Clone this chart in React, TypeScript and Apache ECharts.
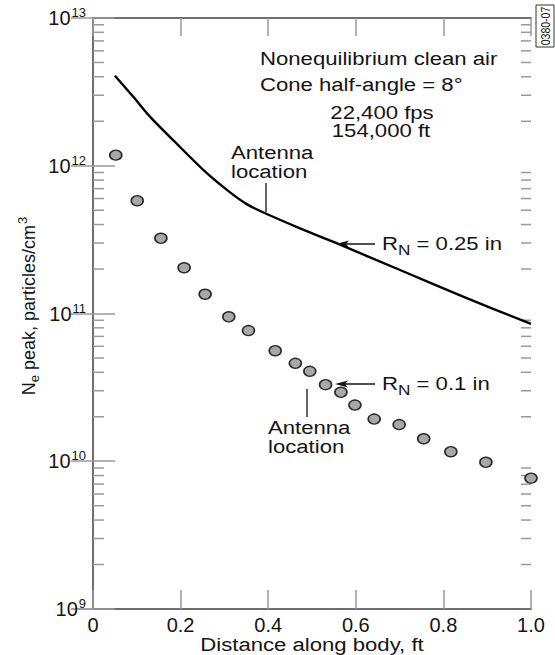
import React, { useEffect, useRef } from "react";
import * as echarts from "echarts";

// ---- data ----
const xTicks = [0, 0.2, 0.4, 0.6, 0.8, 1.0];
const xTickLabels = ["0", "0.2", "0.4", "0.6", "0.8", "1.0"];
const yMinExp = 9;
const yMaxExp = 13;
const minorMantissas = [2, 3, 4, 5, 6, 7, 8, 9];
const minorDecades = [9, 10, 11, 12];

// R_N = 0.25 in (solid curve)
const lineX = [0.05, 0.092, 0.13, 0.183, 0.26, 0.313, 0.351, 0.393, 0.47, 0.556, 0.701, 0.845, 1.0];
const lineY = [4.07e12, 2.93e12, 2.15e12, 1.49e12, 8.9e11, 6.6e11, 5.5e11, 4.77e11, 3.8e11, 2.99e11, 1.97e11, 1.3e11, 8.5e10];

// R_N = 0.1 in (dots)
const dotX = [0.052, 0.101, 0.155, 0.208, 0.256, 0.31, 0.355, 0.416, 0.462, 0.495, 0.531, 0.566, 0.598, 0.642, 0.699, 0.755, 0.817, 0.897, 1.0];
const dotY = [1.18e12, 5.8e11, 3.23e11, 2.04e11, 1.35e11, 9.5e10, 7.66e10, 5.6e10, 4.6e10, 4.06e10, 3.3e10, 2.93e10, 2.4e10, 1.93e10, 1.77e10, 1.42e10, 1.16e10, 9.84e9, 7.68e9];

const FONT = "'Liberation Sans', Arial, Helvetica, sans-serif";
const TXT = "#141414";
const AXIS = "#6f6f6f";
const TICK = "#9a9a9a";
const SX = 1.23;

export default function App() {
  const ref = useRef<HTMLDivElement>(null);

  useEffect(() => {
    if (!ref.current) return;
    const chart = echarts.init(ref.current, null, { renderer: "svg" });

    const minorVals: number[][] = [];
    minorDecades.forEach((d) => minorMantissas.forEach((m) => minorVals.push([0, m * Math.pow(10, d)])));

    const xLabel = (v: number) => {
      const i = xTicks.findIndex((t) => Math.abs(t - v) < 1e-9);
      return i >= 0 ? xTickLabels[i] : "";
    };
    const yLabel = (v: number) => {
      const e = Math.round(Math.log10(v));
      return `{a|10}{b|${e}}`;
    };

    const txt = (text: string, x: number, y: number, align: string = "left", extra: any = {}) => ({
      type: "text",
      x,
      y,
      scaleX: SX,
      style: {
        text,
        fill: TXT,
        font: `18px ${FONT}`,
        textAlign: align,
        textVerticalAlign: "middle",
        ...extra,
      },
    });

    const rnText = (main: string, x: number, y: number) => ({
      type: "text",
      x,
      y,
      scaleX: SX,
      style: {
        text: `{r|R}{s|N}{r|${main}}`,
        fill: TXT,
        textAlign: "left",
        textVerticalAlign: "middle",
        rich: {
          r: { fontSize: 18, fontFamily: FONT, lineHeight: 18, verticalAlign: "top", fill: TXT },
          s: { fontSize: 14, fontFamily: FONT, lineHeight: 14, verticalAlign: "top", padding: [8, 0, 0, 0], fill: TXT },
        },
      },
    });

    const arrow = (tipX: number, y: number, tailX: number) => ({
      type: "group",
      children: [
        { type: "line", shape: { x1: tipX + 6, y1: y, x2: tailX, y2: y }, style: { stroke: TXT, lineWidth: 1.4 } },
        {
          type: "polygon",
          shape: { points: [[tipX, y], [tipX + 13, y - 3.5], [tipX + 10, y], [tipX + 13, y + 3.5]] },
          style: { fill: TXT },
        },
      ],
    });

    const option: any = {
      animation: false,
      backgroundColor: "#ffffff",
      grid: { left: 93, right: 24, top: 18, bottom: 46, containLabel: false, outerBoundsMode: "none" },
      xAxis: [
        {
          type: "value",
          min: 0,
          max: 1,
          interval: 0.2,
          position: "bottom",
          axisLine: { show: true, lineStyle: { color: AXIS, width: 2 } },
          axisTick: { show: true, inside: true, length: 19, lineStyle: { color: TICK, width: 1.5 } },
          axisLabel: { show: true, formatter: xLabel, fontSize: 20, fontFamily: FONT, color: TXT, margin: 6 },
          splitLine: { show: false },
        },
        {
          type: "value",
          min: 0,
          max: 1,
          interval: 0.2,
          position: "top",
          axisLine: { show: true, lineStyle: { color: AXIS, width: 2 } },
          axisTick: { show: true, inside: true, length: 18, lineStyle: { color: TICK, width: 1.5 } },
          axisLabel: { show: false },
          splitLine: { show: false },
        },
      ],
      yAxis: [
        {
          type: "log",
          logBase: 10,
          min: Math.pow(10, yMinExp),
          max: Math.pow(10, yMaxExp),
          position: "left",
          axisLine: { show: true, lineStyle: { color: AXIS, width: 2 } },
          axisTick: { show: true, inside: true, length: 22, lineStyle: { color: TICK, width: 1.5 } },
          axisLabel: {
            show: true,
            formatter: yLabel,
            margin: 7,
            rich: {
              a: { fontSize: 20, fontFamily: FONT, color: TXT, lineHeight: 20, verticalAlign: "bottom" },
              b: { fontSize: 13, fontFamily: FONT, color: TXT, lineHeight: 13, verticalAlign: "bottom", padding: [0, 0, 9, 1] },
            },
          },
          splitLine: { show: false },
        },
        {
          type: "log",
          logBase: 10,
          min: Math.pow(10, yMinExp),
          max: Math.pow(10, yMaxExp),
          position: "right",
          axisLine: { show: true, lineStyle: { color: AXIS, width: 2 } },
          axisTick: { show: true, inside: true, length: 22, lineStyle: { color: TICK, width: 1.5 } },
          axisLabel: { show: false },
          splitLine: { show: false },
        },
      ],
      series: [
        {
          type: "custom",
          name: "minorTicks",
          xAxisIndex: 0,
          yAxisIndex: 0,
          silent: true,
          clip: false,
          data: minorVals,
          renderItem: (_p: any, api: any) => {
            const v = api.value(1);
            const l = api.coord([0, v]);
            const r = api.coord([1, v]);
            return {
              type: "group",
              children: [
                { type: "line", shape: { x1: l[0], y1: l[1], x2: l[0] + 11, y2: l[1] }, style: { stroke: TICK, lineWidth: 1.5 } },
                { type: "line", shape: { x1: r[0] - 10, y1: r[1], x2: r[0], y2: r[1] }, style: { stroke: TICK, lineWidth: 1.5 } },
              ],
            };
          },
        },
        {
          type: "line",
          name: "RN = 0.25 in",
          xAxisIndex: 0,
          yAxisIndex: 0,
          data: lineX.map((x, i) => [x, lineY[i]]),
          showSymbol: false,
          smooth: 0.3,
          clip: false,
          lineStyle: { color: "#000000", width: 2.4 },
        },
        {
          type: "scatter",
          name: "RN = 0.1 in",
          xAxisIndex: 0,
          yAxisIndex: 0,
          data: dotX.map((x, i) => [x, dotY[i]]),
          symbol: "circle",
          symbolSize: [12, 10],
          clip: false,
          itemStyle: { color: "#a8a8a8", borderColor: "#2a2a2a", borderWidth: 1.5, opacity: 1 },
        },
      ],
      graphic: [
        txt("Nonequilibrium clean air", 260, 59),
        txt("Cone half-angle = 8°", 260, 85),
        txt("22,400 fps", 382, 113, "center"),
        txt("154,000 ft", 381, 131, "center"),
        txt("Antenna", 231, 153),
        txt("location", 231, 172),
        { type: "line", shape: { x1: 266, y1: 183, x2: 266, y2: 212 }, style: { stroke: TXT, lineWidth: 1.3 } },
        arrow(336, 244, 375),
        rnText(" = 0.25 in", 382, 244),
        arrow(335, 384, 375),
        rnText(" = 0.1 in", 382, 384),
        { type: "line", shape: { x1: 307, y1: 389, x2: 307, y2: 417 }, style: { stroke: TXT, lineWidth: 1.3 } },
        txt("Antenna", 268, 428),
        txt("location", 268, 447),
        txt("Distance along body, ft", 312, 645, "center"),
        {
          type: "text",
          x: 25,
          y: 306,
          rotation: Math.PI / 2,
          style: {
            text: "{n|N}{s|e}{n| peak, particles/cm}{p|3}",
            textAlign: "center",
            textVerticalAlign: "middle",
            fill: TXT,
            rich: {
              n: { fontSize: 18, fontFamily: FONT, lineHeight: 18, verticalAlign: "top", padding: [4, 0, 0, 0], fill: TXT },
              s: { fontSize: 13, fontFamily: FONT, lineHeight: 13, verticalAlign: "top", padding: [12, 0, 0, 0], fill: TXT },
              p: { fontSize: 13, fontFamily: FONT, lineHeight: 13, verticalAlign: "top", padding: [0, 0, 0, 1], fill: TXT },
            },
          },
        },
        {
          type: "rect",
          shape: { x: 536, y: 5, width: 18, height: 42 },
          style: { fill: "#ffffff", stroke: "#333333", lineWidth: 1 },
        },
        {
          type: "text",
          x: 545.5,
          y: 26,
          rotation: Math.PI / 2,
          scaleY: 1.15,
          style: { text: "0380-07", font: `10.5px ${FONT}`, fill: TXT, textAlign: "center", textVerticalAlign: "middle" },
        },
      ],
    };

    chart.setOption(option);
    return () => chart.dispose();
  }, []);

  return (
    <div
      ref={ref}
      style={{ position: "fixed", left: 0, top: 0, width: 555, height: 655, background: "#fff" }}
    />
  );
}
